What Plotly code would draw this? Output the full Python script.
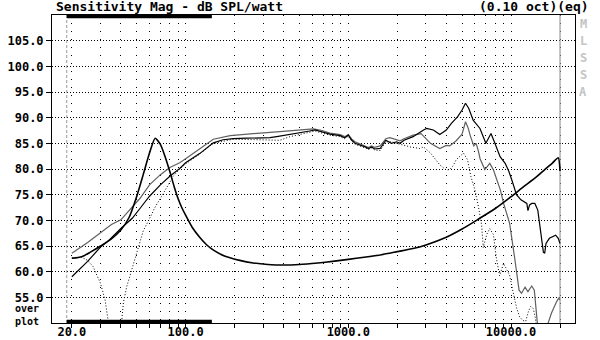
import plotly.graph_objects as go

# ---------------- data ----------------
# Thick black curve (resonance / impedance style overlay)
freq_a = [20, 23, 26, 30, 35, 40, 45, 50, 55, 60, 65, 70, 75, 80, 85, 90, 95, 100, 110, 122, 135,
          150, 175, 215, 260, 320, 400, 500, 650, 800, 1000, 1250, 1600, 2000, 2500, 3000, 4000,
          5000, 6200, 8000, 10000, 12000, 14000, 16000, 18000, 19500, 20000]
level_a = [62.6, 62.9, 63.8, 65.0, 66.4, 68.1, 70.6, 74.6, 79.0, 83.1, 86.0, 84.8, 82.3, 79.5, 76.6,
           74.2, 72.4, 71.0, 68.6, 66.7, 65.2, 64.1, 63.0, 62.2, 61.7, 61.4, 61.3, 61.4, 61.7, 62.0,
           62.4, 62.8, 63.3, 63.9, 64.5, 65.2, 66.7, 68.3, 70.1, 72.3, 74.6, 76.6, 78.2, 79.8, 81.2,
           82.2, 79.6]

# Black SPL response
freq_b = [20, 25, 30, 33, 40, 47, 53, 60, 70, 80, 92, 100, 122, 148, 170, 196, 237, 287, 330, 363,
          400, 438, 505, 580, 625, 670, 770, 890, 950, 1000, 1050, 1100, 1180, 1270, 1330, 1390, 1450,
          1570, 1700, 1840, 1980, 2080, 2200, 2500, 2900, 3030, 3330, 3650, 4000, 4300, 4700, 5000,
          5250, 5500, 5850, 6440, 7000, 7250, 7530, 7960, 8560, 9200, 9700, 10100, 10800, 11500,
          12200, 12500, 12700, 13000, 13400, 14000, 14600, 15000, 15400, 15800, 16100, 16400, 17200,
          18800, 19500, 20000]
level_b = [59.0, 62.0, 64.8, 65.8, 68.4, 70.4, 72.5, 74.7, 76.9, 78.6, 80.1, 81.2, 83.0, 85.1, 85.7,
           85.9, 86.0, 86.0, 86.1, 86.3, 86.5, 86.8, 87.0, 87.4, 87.6, 87.3, 86.8, 86.5, 86.1, 86.6,
           85.6, 85.0, 84.7, 84.3, 84.0, 84.3, 83.9, 84.0, 85.6, 85.0, 85.3, 85.0, 85.6, 86.3, 87.6,
           87.9, 87.6, 86.7, 87.6, 88.9, 90.2, 91.5, 92.8, 91.8, 89.5, 87.9, 85.0, 86.0, 86.9, 85.0,
           82.4, 81.1, 79.5, 77.9, 75.0, 74.0, 73.6, 73.3, 71.9, 73.0, 73.3, 73.3, 72.0, 68.8, 66.0,
           63.8, 63.6, 65.5, 66.5, 67.1, 66.5, 65.5]

# Grey response
freq_c = [20, 25, 30, 35, 40, 45, 52.5, 60, 70, 80, 92, 100, 122, 148, 188, 230, 287, 380, 500, 610,
          690, 770, 890, 950, 1000, 1050, 1100, 1180, 1270, 1330, 1390, 1450, 1570, 1700, 1800, 1980,
          2080, 2200, 2500, 2800, 3000, 3200, 3650, 4000, 4200, 4600, 5000, 5250, 5450, 5600, 5900,
          6100, 6300, 6450, 6900, 7400, 7800, 8200, 8600, 9000, 9400, 9800, 10500, 11200, 11600,
          12200, 12700, 13400, 13900, 14200, 14500, 15000, 16500, 16900, 17700, 18400, 19000, 19600,
          20000]
level_c = [63.6, 65.7, 67.6, 69.2, 70.1, 71.9, 74.3, 76.9, 78.9, 80.3, 81.2, 82.0, 84.0, 85.8, 86.5,
           86.8, 87.0, 87.3, 87.6, 87.8, 87.5, 87.0, 86.7, 86.3, 86.7, 85.8, 85.3, 84.9, 84.5, 84.2,
           84.5, 84.2, 84.5, 85.9, 86.1, 85.6, 85.5, 85.9, 86.6, 86.9, 86.0, 85.0, 84.0, 84.6, 84.5,
           85.5, 86.8, 89.2, 88.0, 86.6, 84.5, 85.0, 83.5, 82.0, 79.9, 81.1, 79.8, 78.0, 75.9, 73.3,
           71.5, 69.4, 62.9, 56.4, 55.8, 57.0, 56.1, 57.2, 56.4, 53.0, 49.0, 45.0, 45.0, 50.0, 51.9,
           53.2, 54.1, 54.8, 54.5]

# Dotted response
freq_d = [20, 23, 25, 27, 30, 32, 33.5, 35, 39, 40.5, 41.5, 43.4, 46.6, 50, 55, 60, 65, 71, 78, 84, 92,
          100, 122, 148, 196, 287, 330, 380, 438, 505, 580, 625, 670, 770, 890, 950, 1000, 1050, 1100,
          1180, 1270, 1330, 1390, 1450, 1570, 1700, 1840, 1980, 2080, 2400, 2750, 2900, 3200, 3500,
          3650, 4000, 4200, 4400, 4600, 5100, 5400, 5670, 6000, 6300, 6600, 6750, 7100, 7400, 7800,
          8100, 8500, 9000, 9300, 9800, 10200, 10800, 11300, 11800, 12300, 12800, 13200, 13700, 14100,
          14400, 15000, 20000]
level_d = [62.7, 62.8, 62.2, 61.0, 57.7, 54.5, 50.2, 45.0, 45.0, 50.2, 54.0, 57.0, 60.3, 64.0, 68.0,
           70.3, 72.6, 74.6, 77.0, 78.6, 80.0, 81.0, 82.9, 85.0, 85.8, 85.7, 85.6, 85.6, 86.3, 86.8,
           87.2, 87.4, 87.1, 86.6, 86.3, 85.9, 86.4, 85.4, 84.8, 84.5, 84.1, 83.8, 84.1, 83.7, 83.6,
           85.3, 85.3, 85.0, 84.8, 84.3, 84.0, 84.3, 83.1, 81.4, 80.8, 79.8, 79.9, 80.6, 81.8, 83.1,
           81.8, 78.5, 75.9, 72.7, 69.0, 64.7, 67.3, 68.4, 67.2, 62.9, 59.2, 61.6, 60.6, 59.3, 56.6,
           53.0, 51.2, 50.5, 50.3, 52.3, 53.2, 52.8, 51.0, 49.0, 45.0, 45.0]

# axis / tick definitions
x_grid = [20, 30, 40, 50, 60, 70, 80, 90, 100, 200, 300, 400, 500, 600, 700, 800, 900,
          1000, 2000, 3000, 4000, 5000, 6000, 7000, 8000, 9000, 10000, 20000]
x_labels = {20: "20.0", 100: "100.0", 1000: "1000.0", 10000: "10000.0"}
y_ticks = [55, 60, 65, 70, 75, 80, 85, 90, 95, 100, 105]
y_labels = ["55.0", "60.0", "65.0", "70.0", "75.0", "80.0", "85.0", "90.0", "95.0", "100.0", "105.0"]

# markers (analysis range / upper limit)
range_lo_hz = 18.6
range_hi_hz = 145
upper_limit_hz = 20000

X_RANGE_LOG = [1.179, 4.393]
Y_RANGE = [50, 110]

MONO = "DejaVu Sans Mono"

# ---------------- figure ----------------
fig = go.Figure()

# decorative reference lines
fig.add_trace(go.Scatter(x=[range_lo_hz, range_lo_hz], y=Y_RANGE, mode="lines",
                         line=dict(color="#9a9a9a", width=1, dash="3px,2px"), hoverinfo="skip"))
fig.add_trace(go.Scatter(x=[upper_limit_hz, upper_limit_hz], y=Y_RANGE, mode="lines",
                         line=dict(color="#9a9a9a", width=1.2), hoverinfo="skip"))
fig.add_trace(go.Scatter(x=[range_lo_hz, range_hi_hz], y=[109.68, 109.68], mode="lines",
                         line=dict(color="black", width=3.4), hoverinfo="skip"))
fig.add_trace(go.Scatter(x=[range_lo_hz, range_hi_hz], y=[50.32, 50.32], mode="lines",
                         line=dict(color="black", width=3.4), hoverinfo="skip"))

fig.add_trace(go.Scatter(x=freq_d, y=level_d, mode="lines",
                         line=dict(color="black", width=1, dash="1px,2px")))
fig.add_trace(go.Scatter(x=freq_c, y=level_c, mode="lines",
                         line=dict(color="#606060", width=1.2)))
fig.add_trace(go.Scatter(x=freq_b, y=level_b, mode="lines",
                         line=dict(color="black", width=1.2)))
fig.add_trace(go.Scatter(x=freq_a, y=level_a, mode="lines", line_shape="spline",
                         line=dict(color="black", width=1.6, smoothing=0.6)))

fig.update_layout(
    width=600, height=340, autosize=False,
    margin=dict(l=52, r=25, t=15, b=17, pad=0),
    paper_bgcolor="white", plot_bgcolor="white",
    showlegend=False,
    font=dict(family=MONO, size=12, color="black", weight="bold"),
)

fig.update_xaxes(
    type="log", range=X_RANGE_LOG, automargin=False,
    tickmode="array", tickvals=x_grid,
    ticktext=[x_labels.get(v, "") for v in x_grid],
    ticks="outside", ticklen=4, tickcolor="black", tickwidth=1,
    showgrid=True, gridcolor="black", gridwidth=1, griddash="1px,7px",
    showline=True, linecolor="black", linewidth=1, mirror=True,
    zeroline=False, ticklabelstandoff=-6,
    tickfont=dict(family=MONO, size=12, weight="bold"),
)
fig.update_yaxes(
    range=Y_RANGE, automargin=False,
    tickmode="array", tickvals=y_ticks, ticktext=y_labels,
    ticks="outside", ticklen=5, tickcolor="black", tickwidth=1,
    showgrid=True, gridcolor="black", gridwidth=1, griddash="1px,2px",
    showline=True, linecolor="black", linewidth=1, mirror=True,
    zeroline=False,
    tickfont=dict(family=MONO, size=12, weight="bold"),
)

ann = []
ann.append(dict(text="Sensitivity Mag - dB SPL/watt", x=0.004, y=1.026, xref="paper", yref="paper",
                xanchor="left", yanchor="middle", showarrow=False,
                font=dict(family=MONO, size=13, weight="bold")))
ann.append(dict(text="(0.10 oct)(eq)", x=1.03, y=1.026, xref="paper", yref="paper",
                xanchor="right", yanchor="middle", showarrow=False,
                font=dict(family=MONO, size=13, weight="bold")))
for i, ch in enumerate("MLSSA"):
    ann.append(dict(text=ch, x=1.0153, y=0.972 - i * 0.0555, xref="paper", yref="paper",
                    xanchor="center", yanchor="middle", showarrow=False,
                    font=dict(family=MONO, size=12, color="#c4c4c4")))
ann.append(dict(text="over<br>plot", x=-0.022, y=0.026, xref="paper", yref="paper",
                xanchor="right", yanchor="middle", align="right", showarrow=False,
                borderpad=0, font=dict(family=MONO, size=10, weight="bold")))
fig.update_layout(annotations=ann)

fig.write_html("out.html", config={"displayModeBar": False},
               post_script="document.body.style.margin='0px';document.body.style.overflow='hidden';")
